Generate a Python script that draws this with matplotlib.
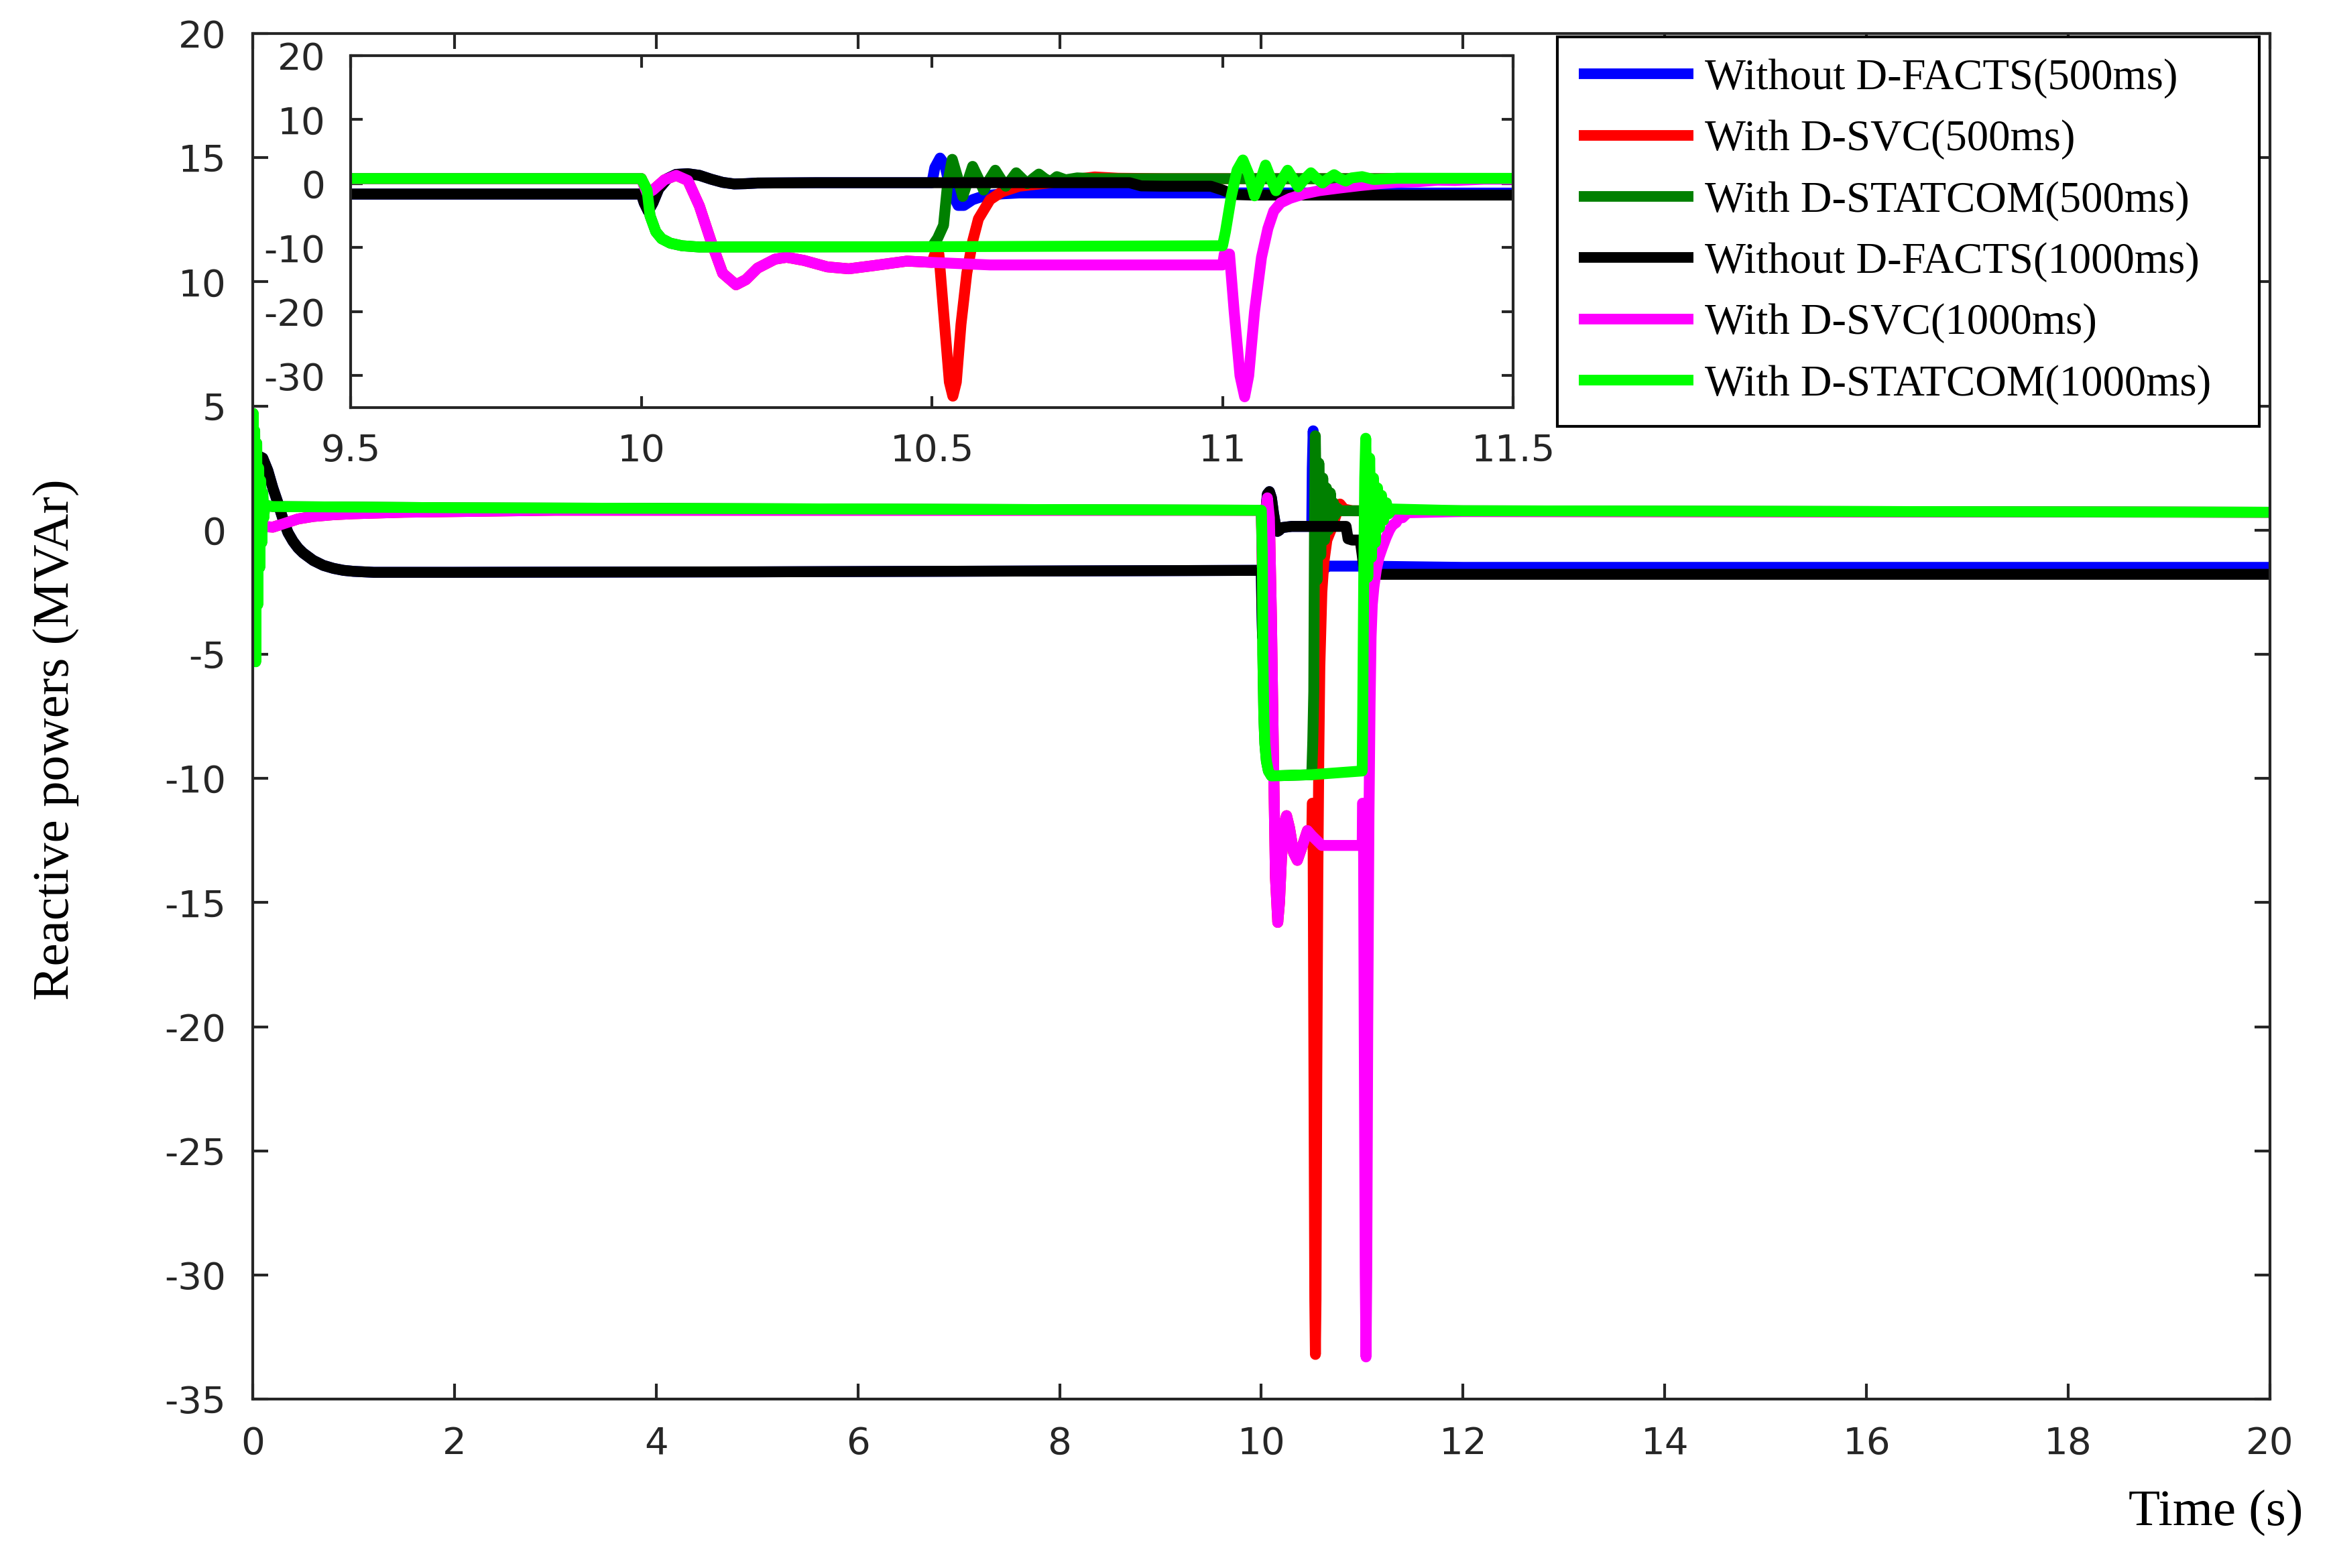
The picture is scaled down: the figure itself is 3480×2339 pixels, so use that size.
import matplotlib.pyplot as plt
import numpy as np

plt.rcParams['axes.unicode_minus'] = False

# ---- data (time in s, reactive power in MVAr) ----
labels = ['Without D-FACTS(500ms)', 'With D-SVC(500ms)', 'With D-STATCOM(500ms)',
          'Without D-FACTS(1000ms)', 'With D-SVC(1000ms)', 'With D-STATCOM(1000ms)']
colors = ['#0000ff', '#ff0000', '#008000', '#000000', '#ff00ff', '#00ff00']

# 1000 ms fault (10.0 s -> 11.0 s)
black_t = [0, 0.05, 0.1, 0.15, 0.2, 0.25, 0.3, 0.35, 0.4, 0.45, 0.5, 0.6, 0.7, 0.8, 0.9,
           1.0, 1.2, 1.5, 2.0, 5.0, 10.0, 10.005, 10.012, 10.02, 10.03, 10.045, 10.06,
           10.08, 10.1, 10.12, 10.14, 10.16, 10.18, 10.2, 10.3, 10.5, 10.7, 10.84, 10.86,
           10.9, 10.98, 11.0, 11.02, 11.05, 12.0, 20.0]
black_v = [3.0, 3.0, 2.9, 2.4, 1.7, 1.1, 0.45, -0.1, -0.45, -0.72, -0.92, -1.22, -1.42,
           -1.54, -1.62, -1.66, -1.7, -1.7, -1.7, -1.68, -1.62, -3.0, -4.3, -3.0, -0.8,
           0.8, 1.45, 1.55, 1.3, 0.7, 0.2, -0.05, 0.0, 0.1, 0.15, 0.15, 0.15, 0.15, -0.35,
           -0.4, -0.4, -1.0, -1.7, -1.78, -1.78, -1.78]

magenta_t = [0, 0.005, 0.01, 0.03, 0.1, 0.2, 0.3, 0.45, 0.6, 0.8, 1.0, 1.5, 3.0, 10.0,
             10.01, 10.02, 10.04, 10.06, 10.08, 10.1, 10.12, 10.14, 10.163, 10.18, 10.2,
             10.23, 10.25, 10.28, 10.32, 10.357, 10.4, 10.457, 10.5, 10.6, 11.0, 11.003,
             11.012, 11.02, 11.03, 11.038, 11.045, 11.055, 11.067, 11.078, 11.088, 11.1,
             11.116, 11.14, 11.166, 11.2, 11.237, 11.27, 11.3, 11.336, 11.37, 11.4, 11.45,
             12.0, 20.0]
magenta_v = [4.5, 2.0, 0.8, 0.3, 0.15, 0.12, 0.25, 0.45, 0.55, 0.62, 0.66, 0.72, 0.8, 0.8,
             -1.5, -1.0, 0.6, 1.3, 0.5, -3.5, -9.0, -14.0, -15.8, -15.0, -13.2, -11.8,
             -11.5, -12.0, -13.0, -13.3, -12.8, -12.1, -12.3, -12.7, -12.7, -11.0, -11.0,
             -20.0, -30.0, -33.3, -30.0, -20.0, -11.5, -7.0, -4.3, -3.0, -2.3, -1.6, -1.1,
             -0.7, -0.3, 0.0, 0.2, 0.3, 0.55, 0.5, 0.7, 0.75, 0.72]

green_t = [0, 0.005, 0.012, 0.02, 0.03, 0.04, 0.05, 0.06, 0.07, 0.08, 0.09, 0.1, 0.11,
           0.12, 0.2, 2.0, 10.0, 10.01, 10.015, 10.025, 10.035, 10.05, 10.07, 10.1, 10.5,
           11.0, 11.005, 11.015, 11.025, 11.035, 11.045, 11.055, 11.065, 11.074, 11.083,
           11.092, 11.102, 11.112, 11.121, 11.13, 11.14, 11.152, 11.162, 11.172, 11.182,
           11.192, 11.202, 11.212, 11.222, 11.24, 11.26, 11.3, 12.0, 20.0]
green_v = [0.5, 4.7, -2.0, 4.0, -5.3, 3.5, -3.0, 2.5, -1.5, 2.0, -0.5, 1.5, 0.5, 1.0,
           0.95, 0.9, 0.8, -1.0, -5.0, -7.5, -8.6, -9.3, -9.7, -9.9, -9.85, -9.7, -7.5,
           -2.0, 2.1, 3.7, 1.5, -1.9, 0.5, 2.9, 0.8, -1.1, 0.6, 2.1, 0.8, -0.5, 0.6, 1.7,
           0.8, 0.1, 0.8, 1.4, 0.8, 0.4, 0.9, 1.1, 0.65, 0.85, 0.78, 0.72]

# 500 ms fault (10.0 s -> 10.5 s): identical to the 1000 ms runs before 10.5 s
blue_t_after = [10.5, 10.505, 10.514, 10.522, 10.532, 10.545, 10.555, 10.57, 10.59,
                10.62, 10.65, 10.8, 11.0, 12.0, 20.0]
blue_v_after = [0.15, 2.5, 4.0, 3.0, -1.0, -3.4, -3.4, -2.5, -1.9, -1.6, -1.45, -1.45,
                -1.45, -1.5, -1.5]

red_t_after = [10.5, 10.505, 10.512, 10.52, 10.53, 10.536, 10.542, 10.55, 10.56, 10.57,
               10.58, 10.6, 10.62, 10.65, 10.7, 10.74, 10.78, 10.82, 10.9, 12.0, 20.0]
red_v_after = [-12.3, -11.0, -11.0, -20.0, -31.0, -33.2, -31.0, -22.0, -14.0, -9.0,
               -5.5, -2.5, -1.3, -0.4, 0.1, 0.6, 1.05, 0.85, 0.78, 0.75, 0.72]

dkgreen_t_after = [10.5, 10.51, 10.52, 10.527, 10.535, 10.544, 10.553, 10.562, 10.57,
                   10.58, 10.589, 10.598, 10.609, 10.618, 10.627, 10.636, 10.645, 10.655,
                   10.664, 10.674, 10.684, 10.694, 10.704, 10.715, 10.73, 10.75, 10.78,
                   12.0, 20.0]
dkgreen_v_after = [-9.85, -8.5, -6.5, 0.0, 3.8, 1.0, -2.0, 0.5, 2.7, 0.8, -1.0, 0.5, 2.1,
                   0.8, -0.4, 0.6, 1.7, 0.8, 0.0, 0.8, 1.5, 0.8, 0.3, 1.1, 0.6, 0.9, 0.78,
                   0.78, 0.72]


def join(t_before, v_before, t_after, v_after, t_cut=10.5):
    t_before = np.asarray(t_before)
    keep = t_before < t_cut
    return (np.concatenate([t_before[keep], t_after]),
            np.concatenate([np.asarray(v_before)[keep], v_after]))


series = [
    join(black_t, black_v, blue_t_after, blue_v_after),
    join(magenta_t, magenta_v, red_t_after, red_v_after),
    join(green_t, green_v, dkgreen_t_after, dkgreen_v_after),
    (black_t, black_v),
    (magenta_t, magenta_v),
    (green_t, green_v),
]

fc = '#262626'
fig = plt.figure(figsize=(11.6, 7.7967), dpi=300)
ax = fig.add_axes([0.1083, 0.1077, 0.8647, 0.8709])
ins = fig.add_axes([0.1503, 0.740, 0.4983, 0.2245])

for (t, v), c, lab in zip(series, colors, labels):
    ax.plot(t, v, color=c, lw=3.9, label=lab, solid_joinstyle='round',
            solid_capstyle='round')
    ins.plot(t, v, color=c, lw=3.9, solid_joinstyle='round', solid_capstyle='round')

ax.set_xlim(0, 20)
ax.set_ylim(-35, 20)
ax.set_xticks(np.arange(0, 21, 2))
ax.set_yticks(np.arange(-35, 21, 5))

ins.set_xlim(9.5, 11.5)
ins.set_ylim(-35, 20)
ins.set_xticks([9.5, 10, 10.5, 11, 11.5])
ins.set_xticklabels(['9.5', '10', '10.5', '11', '11.5'])
ins.set_yticks([-30, -20, -10, 0, 10, 20])

for a, tl, pad in [(ax, 5.5, 9.5), (ins, 4.2, 9)]:
    a.tick_params(direction='in', top=True, right=True, length=tl, width=1.0,
                  color=fc, labelcolor=fc, labelsize=13.5, pad=pad)
    for s in a.spines.values():
        s.set_linewidth(1.0)
        s.set_color(fc)
    for lbl in a.get_xticklabels() + a.get_yticklabels():
        lbl.set_fontfamily('DejaVu Sans')

ax.set_ylabel('Reactive powers (MVAr)', fontsize=18.5, family='Liberation Serif')
ax.yaxis.set_label_coords(-0.086, 0.483)
ax.set_xlabel('Time (s)', fontsize=18.5, family='Liberation Serif')
ax.xaxis.set_label_coords(0.973, -0.066)

leg = ax.legend(loc='upper left', bbox_to_anchor=(0.6467, 0.7162, 0.348, 0.2813),
                mode='expand', borderaxespad=0, fancybox=False, framealpha=1,
                edgecolor='black', handlelength=2.65, handletextpad=0.26,
                borderpad=0.5, labelspacing=0.49,
                prop={'family': 'Liberation Serif', 'size': 15.5})
leg.get_frame().set_linewidth(1.0)
for ln in leg.get_lines():
    ln.set_linewidth(3.8)
    ln.set_solid_capstyle('butt')

fig.savefig('out.png', dpi=300)
